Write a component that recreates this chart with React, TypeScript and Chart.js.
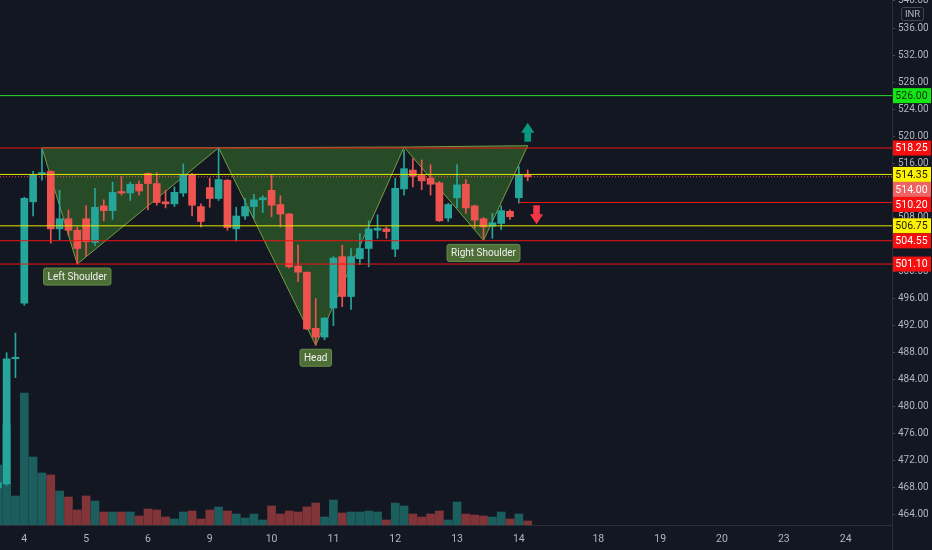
import { useEffect, useRef } from "react";
import { Chart, registerables } from "chart.js";

Chart.register(...registerables);
Chart.defaults.font.family = "Roboto, 'Noto Sans', sans-serif";

// ---- data ----
const firstBar = -3; // bar index of the first candle (bar 0 = first bar of day 4)
const opens = [468.0, 468.6, 487.1, 495.3, 510.3, 514.4, 514.8, 506.3, 507.8, 506.1, 507.8, 504.3, 509.7, 509.0, 511.8, 511.6, 512.9, 514.5, 513.0, 510.3, 510.0, 511.6, 514.3, 509.6, 512.4, 510.8, 513.5, 506.3, 508.2, 509.6, 510.6, 512.0, 509.9, 508.5, 500.8, 499.9, 491.6, 490.3, 494.6, 502.2, 496.3, 501.9, 503.4, 506.1, 506.3, 503.3, 512.2, 515.0, 514.2, 513.8, 513.1, 507.9, 510.9, 512.9, 509.7, 507.8, 506.7, 507.1, 508.9, 510.9, 514.2];
const highs = [468.9, 488.0, 490.9, 511.0, 514.8, 518.2, 514.9, 512.0, 509.1, 506.6, 509.7, 512.3, 510.6, 513.2, 514.0, 513.2, 513.4, 514.6, 514.6, 512.0, 512.5, 515.9, 514.5, 510.0, 513.8, 518.3, 513.6, 509.5, 510.8, 511.4, 511.2, 514.2, 511.2, 508.6, 503.9, 499.9, 496.0, 493.2, 502.2, 503.9, 503.4, 505.6, 507.5, 508.4, 506.6, 513.8, 518.0, 516.7, 516.5, 515.8, 513.3, 510.1, 515.8, 513.6, 509.8, 508.0, 508.6, 509.7, 509.1, 515.5, 515.0];
const lows = [467.8, 468.4, 484.3, 495.0, 508.2, 513.5, 504.2, 504.7, 505.3, 501.1, 502.2, 503.8, 507.5, 507.7, 511.3, 510.5, 511.3, 509.1, 509.8, 509.4, 509.6, 511.1, 508.2, 506.6, 509.5, 510.5, 506.1, 504.5, 507.7, 507.9, 508.7, 508.1, 506.6, 500.5, 498.5, 491.4, 489.1, 489.9, 492.0, 494.8, 494.4, 501.0, 500.7, 504.9, 504.9, 502.2, 511.3, 512.5, 512.1, 511.3, 507.4, 507.4, 509.4, 508.6, 506.4, 504.9, 504.9, 506.2, 507.7, 510.1, 513.4];
const closes = [468.8, 487.1, 487.3, 510.8, 514.3, 514.6, 506.3, 507.8, 506.1, 503.4, 504.4, 509.5, 509.0, 511.7, 511.6, 512.9, 511.9, 513.0, 510.2, 510.0, 511.7, 514.3, 509.8, 507.4, 510.8, 513.6, 506.5, 508.2, 509.6, 510.6, 510.9, 509.8, 508.5, 500.7, 499.9, 491.5, 490.3, 493.1, 502.0, 496.3, 502.2, 503.4, 506.3, 506.4, 505.9, 512.3, 515.2, 514.1, 513.4, 512.9, 507.5, 509.9, 512.8, 509.4, 507.6, 506.6, 507.2, 509.0, 508.1, 514.3, 514.0];
const volumes = [600, 1000, 290, 1320, 680, 520, 500, 340, 280, 150, 290, 240, 130, 130, 130, 130, 90, 160, 150, 80, 60, 130, 140, 60, 150, 180, 140, 110, 70, 110, 50, 190, 110, 140, 130, 180, 220, 80, 250, 120, 130, 130, 140, 130, 50, 220, 190, 110, 80, 110, 140, 50, 230, 110, 100, 90, 80, 130, 60, 110, 40];

const dayTickBars = [0, 7, 14, 21, 28, 35, 42, 49, 56, 65, 72, 79, 86, 93];
const dayTickLabels = ["4", "5", "6", "9", "10", "11", "12", "13", "14", "18", "19", "20", "23", "24"];
const priceTicks = [464, 468, 472, 476, 480, 484, 488, 492, 496, 500, 504, 508, 512, 516, 520, 524, 528, 532, 536, 540];

const xMin = -2.75;
const xMax = 98.25;
const yMin = 462.52;
const yMax = 540.14;
const volMax = 5250;

const levelPrices = [526.0, 518.25, 514.35, 510.2, 506.75, 504.55, 501.1];
const levelStarts = [xMin, xMin, xMin, 56, xMin, xMin, xMin];

const leftShoulder = [[2, 518.3], [6, 501.1], [22, 518.3]];
const headPoints = [[22, 518.3], [33, 489.1], [43, 518.4]];
const rightShoulder = [[43, 518.4], [52, 504.6], [57, 518.6]];
const patterns = [leftShoulder, headPoints, rightShoulder];
const patternNames = ["Left Shoulder", "Head", "Right Shoulder"];

const upArrow = [57, 519.2];
const downArrow = [58, 509.8];

// ---- styles ----
const BG = "#131722";
const UP = "#26a69a";
const DOWN = "#ef5350";
const VOL_UP = "rgba(38,166,154,0.5)";
const VOL_DOWN = "rgba(239,83,80,0.5)";
const levelLineColors = ["#2edc2e", "#f01414", "#e6e600", "#f01414", "#e6e600", "#f01414", "#f01414"];
const tagBg = ["#14e614", "#f70f0f", "#fff200", "#f70f0f", "#fff200", "#f70f0f", "#f70f0f"];
const tagFg = ["#0f2e0f", "#ffffff", "#1a1a00", "#ffffff", "#1a1a00", "#ffffff", "#ffffff"];
const AXIS_TEXT = "#b2b5be";
const AXIS_LINE = "#2a2e39";

const bars = opens.map((_, k) => firstBar + k);
const isUp = (k: number) => closes[k] >= opens[k];
const lastClose = closes[closes.length - 1];

function drawArrow(ctx: CanvasRenderingContext2D, cx: number, baseY: number, dir: number, color: string) {
  const shaft = 9, head = 10, sw = 3.3, hw = 6.6;
  ctx.fillStyle = color;
  ctx.beginPath();
  ctx.moveTo(cx - sw, baseY);
  ctx.lineTo(cx - sw, baseY + dir * shaft);
  ctx.lineTo(cx - hw, baseY + dir * shaft);
  ctx.lineTo(cx, baseY + dir * (shaft + head));
  ctx.lineTo(cx + hw, baseY + dir * shaft);
  ctx.lineTo(cx + sw, baseY + dir * shaft);
  ctx.lineTo(cx + sw, baseY);
  ctx.closePath();
  ctx.fill();
}

function rrect(ctx: CanvasRenderingContext2D, x: number, y: number, w: number, h: number, r: number) {
  ctx.beginPath();
  if ((ctx as any).roundRect) (ctx as any).roundRect(x, y, w, h, r);
  else ctx.rect(x, y, w, h);
}

const overlayPlugin = {
  id: "overlay",
  afterDraw(chart: any) {
    const { ctx, chartArea, scales } = chart;
    const xs = scales.x;
    const ys = scales.y;
    ctx.save();

    // continue the price-scale border down through the time axis
    ctx.strokeStyle = AXIS_LINE;
    ctx.lineWidth = 1;
    ctx.beginPath();
    ctx.moveTo(chartArea.right + 0.5, chartArea.bottom);
    ctx.lineTo(chartArea.right + 0.5, chart.height);
    ctx.stroke();

    // pattern labels
    ctx.font = "10px Roboto";
    ctx.textAlign = "center";
    ctx.textBaseline = "middle";
    patterns.forEach((pts, k) => {
      const px = xs.getPixelForValue(pts[1][0]);
      const py = ys.getPixelForValue(pts[1][1]);
      const text = patternNames[k];
      const w = ctx.measureText(text).width + 8;
      const h = 17;
      const left = px - w / 2;
      const top = py + 4;
      rrect(ctx, left, top, w, h, 2);
      ctx.fillStyle = "#4d6e36";
      ctx.fill();
      ctx.strokeStyle = "#6a8f4c";
      ctx.lineWidth = 1;
      ctx.stroke();
      ctx.fillStyle = "#f0f0f0";
      ctx.fillText(text, px, top + h / 2 + 0.5);
    });

    // arrows
    drawArrow(ctx, xs.getPixelForValue(upArrow[0]), ys.getPixelForValue(upArrow[1]), -1, "#089981");
    drawArrow(ctx, xs.getPixelForValue(downArrow[0]), ys.getPixelForValue(downArrow[1]), 1, "#f23645");

    // price tags on the scale
    const tags = levelPrices.map((p, k) => ({ p, bg: tagBg[k], fg: tagFg[k] }));
    tags.push({ p: lastClose, bg: "#ef6363", fg: "#ffffff" });
    tags.sort((a, b) => b.p - a.p);
    const th = 15;
    let prevBottom = -Infinity;
    ctx.font = "10.5px Roboto";
    tags.forEach((t) => {
      let cy = ys.getPixelForValue(t.p);
      if (cy - th / 2 < prevBottom) cy = prevBottom + th / 2;
      prevBottom = cy + th / 2;
      ctx.fillStyle = t.bg;
      ctx.fillRect(chartArea.right + 1, cy - th / 2, 38, th);
      ctx.fillStyle = t.fg;
      ctx.fillText(t.p.toFixed(2), chartArea.right + 19.5, cy + 0.5);
    });

    // currency box
    const bx = chartArea.right + 9;
    rrect(ctx, bx + 0.5, 7.5, 22, 13, 2);
    ctx.fillStyle = BG;
    ctx.fill();
    ctx.strokeStyle = "#434651";
    ctx.stroke();
    ctx.fillStyle = AXIS_TEXT;
    ctx.font = "9.5px Roboto";
    ctx.fillText("INR", bx + 11.5, 14.5);

    ctx.restore();
  },
};

export default function App() {
  const ref = useRef<HTMLCanvasElement | null>(null);

  useEffect(() => {
    document.body.style.margin = "0";
    document.body.style.background = BG;
    if (!ref.current) return;

    const patternDatasets = patterns.map((pts) => ({
      type: "line" as const,
      data: [...pts, pts[0]].map(([x, y]) => ({ x, y })),
      fill: "shape",
      backgroundColor: "rgba(89,196,54,0.3)",
      borderColor: "rgba(128,168,70,0.9)",
      borderWidth: 1,
      pointRadius: 0,
      tension: 0,
      order: 9,
    }));

    const levelDatasets = levelPrices.map((p, k) => ({
      type: "line" as const,
      data: [
        { x: levelStarts[k], y: p },
        { x: xMax, y: p },
      ],
      borderColor: levelLineColors[k],
      borderWidth: 1,
      pointRadius: 0,
      fill: false,
      order: 3,
    }));

    const chart = new Chart(ref.current, {
      type: "bar",
      data: {
        datasets: [
          {
            type: "bar",
            yAxisID: "yVol",
            data: bars.map((b, k) => ({ x: b, y: volumes[k] })),
            backgroundColor: bars.map((_, k) => (isUp(k) ? VOL_UP : VOL_DOWN)),
            barThickness: 8,
            grouped: false,
            order: 10,
          },
          ...patternDatasets,
          {
            type: "bar",
            data: bars.map((b, k) => ({ x: b, y: [lows[k], highs[k]] })),
            backgroundColor: bars.map((_, k) => (isUp(k) ? UP : DOWN)),
            barThickness: 1,
            grouped: false,
            order: 7,
          },
          {
            type: "bar",
            data: bars.map((b, k) => ({ x: b, y: [opens[k], closes[k]] })),
            backgroundColor: bars.map((_, k) => (isUp(k) ? UP : DOWN)),
            barThickness: 7,
            minBarLength: 1.5,
            grouped: false,
            order: 6,
          },
          ...levelDatasets,
          {
            type: "line",
            data: [
              { x: xMin, y: lastClose },
              { x: xMax, y: lastClose },
            ],
            borderColor: DOWN,
            borderWidth: 1,
            borderDash: [1, 2],
            pointRadius: 0,
            fill: false,
            order: 2,
          },
        ] as any,
      },
      options: {
        animation: false,
        responsive: true,
        maintainAspectRatio: false,
        events: [],
        layout: { padding: 0, autoPadding: false },
        plugins: { legend: { display: false }, tooltip: { enabled: false } },
        scales: {
          x: {
            type: "linear",
            min: xMin,
            max: xMax,
            offset: false,
            grid: { display: false, drawTicks: false, offset: false },
            border: { display: true, color: AXIS_LINE },
            ticks: {
              autoSkip: false,
              maxRotation: 0,
              padding: 8,
              color: AXIS_TEXT,
              font: { size: 10.5 },
              callback: (v: any) => {
                const k = dayTickBars.indexOf(Number(v));
                return k >= 0 ? dayTickLabels[k] : "";
              },
            },
            afterBuildTicks: (s: any) => {
              s.ticks = dayTickBars.map((v) => ({ value: v }));
            },
            afterFit: (s: any) => {
              s.height = 25;
              s.paddingLeft = 0;
              s.paddingRight = 0;
            },
          },
          y: {
            type: "linear",
            position: "right",
            min: yMin,
            max: yMax,
            grid: { drawOnChartArea: false, drawTicks: true, tickLength: 3, tickColor: "#434651" },
            border: { display: true, color: AXIS_LINE },
            ticks: {
              padding: 3,
              color: AXIS_TEXT,
              font: { size: 10 },
              callback: (v: any) => Number(v).toFixed(2),
            },
            afterBuildTicks: (s: any) => {
              s.ticks = priceTicks.map((v) => ({ value: v }));
            },
            afterFit: (s: any) => {
              s.width = 40;
              s.paddingTop = 0;
              s.paddingBottom = 0;
            },
          },
          yVol: { type: "linear", display: false, min: 0, max: volMax },
        },
      } as any,
      plugins: [overlayPlugin],
    });

    return () => chart.destroy();
  }, []);

  return (
    <div style={{ position: "fixed", left: 0, top: 0, width: 932, height: 550, background: BG }}>
      <canvas ref={ref} />
    </div>
  );
}
